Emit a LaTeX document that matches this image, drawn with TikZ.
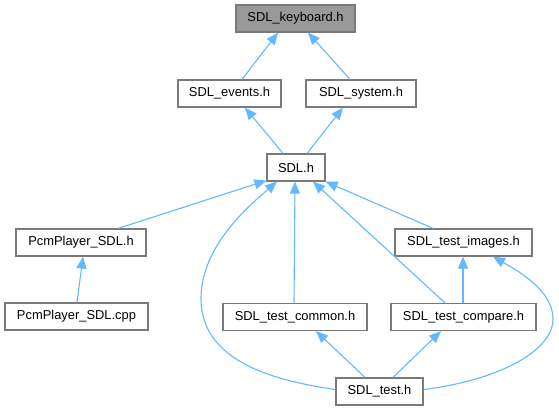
\documentclass[tikz,border=0pt]{standalone}
\usepackage{fontspec}
\setmainfont{Liberation Sans}
\usetikzlibrary{arrows.meta}
\definecolor{edgeblue}{HTML}{63B8FF}
\definecolor{boxgray}{HTML}{7A7A7A}
\definecolor{rootfill}{HTML}{999999}
\tikzset{
  filebox/.style={draw=boxgray, line width=1.2pt, fill=white, rectangle, inner sep=0pt,
    minimum height=27pt, font=\fontsize{12.9}{14}\selectfont, text=black},
  rootbox/.style={filebox, fill=rootfill},
  dep/.style={draw=edgeblue, line width=1.1pt, -{Triangle[length=12pt,width=10pt]}, fill=none},
}
\begin{document}
\begin{tikzpicture}[x=1pt,y=-1pt]
\useasboundingbox (0,0) rectangle (559,411);
\node[rootbox, minimum width=119pt] (keyboard) at (295.5,18.5) {SDL\_keyboard.h};
\node[filebox, minimum width=103pt] (events) at (229.5,93.5) {SDL\_events.h};
\node[filebox, minimum width=110pt] (system) at (361,93.5) {SDL\_system.h};
\node[filebox, minimum width=58pt] (sdl) at (296,167.5) {SDL.h};
\node[filebox, minimum width=130pt] (pcmh) at (81,242.5) {PcmPlayer\_SDL.h};
\node[filebox, minimum width=143pt] (pcmcpp) at (76.5,316.5) {PcmPlayer\_SDL.cpp};
\node[filebox, minimum width=137pt] (images) at (463.5,242.5) {SDL\_test\_images.h};
\node[filebox, minimum width=144pt] (common) at (295,317) {SDL\_test\_common.h};
\node[filebox, minimum width=145pt] (compare) at (463.5,317) {SDL\_test\_compare.h};
\node[filebox, minimum width=87pt] (test) at (379.5,391.5) {SDL\_test.h};

\draw[dep] ([xshift=12.5pt]events.north) -- ([xshift=-17.5pt]keyboard.south);
\draw[dep] ([xshift=-11pt]system.north) -- ([xshift=12.5pt]keyboard.south);
\draw[dep] ([xshift=-13pt]sdl.north) -- ([xshift=15.5pt]events.south);
\draw[dep] ([xshift=11pt]sdl.north) -- ([xshift=-18pt]system.south);
\draw[dep] ([xshift=37pt]pcmh.north) -- ([yshift=1pt]sdl.south west);
\draw[dep] ([xshift=0.5pt]pcmcpp.north) -- ([xshift=2pt]pcmh.south);
\draw[dep] ([yshift=2pt]test.west) .. controls (270,380) and (200,360) .. (201,297)
  .. controls (202,245) and (250,205) .. ([xshift=-19pt]sdl.south);
\draw[dep] ([xshift=-1pt]common.north) -- ([xshift=-1pt]sdl.south);
\draw[dep] ([xshift=-18.5pt]compare.north) -- ([xshift=17pt]sdl.south);
\draw[dep] ([xshift=-30.5pt]images.north) -- (sdl.south east);
\draw[dep] ([xshift=-0.5pt]compare.north) -- ([xshift=-0.5pt]images.south);
\draw[dep] ([yshift=2pt]test.east) .. controls (500,380) and (555,350) .. (553,317)
  .. controls (551,290) and (520,272) .. ([xshift=29.5pt]images.south);
\draw[dep] ([xshift=-14.5pt]test.north) -- ([xshift=21pt]common.south);
\draw[dep] ([xshift=13.5pt]test.north) -- ([xshift=-22.5pt]compare.south);
\end{tikzpicture}
\end{document}
